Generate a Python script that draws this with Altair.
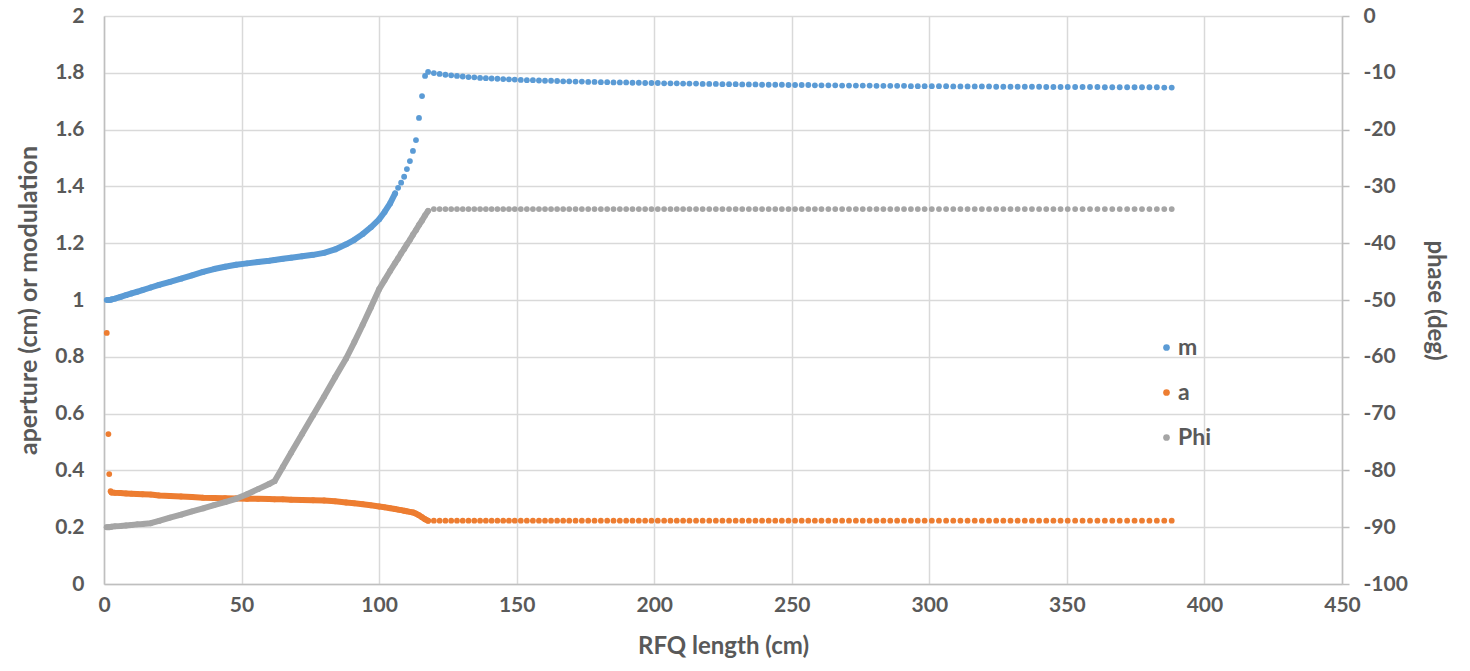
import altair as alt
import pandas as pd

# ---- cell positions (cm) and values ----
z_dense = [1.0, 1.6, 1.9, 2.4, 2.8,
           4, 6, 8, 10, 12, 14,
           17, 20, 24, 28, 32, 36, 40, 44, 48,
           52, 56, 60, 62, 65, 68, 72, 76, 80,
           84, 88, 91, 94, 97, 100, 102, 104,
           105.8, 106.9, 108.0, 109.1, 110.1, 111.2, 112.3, 113.4, 114.5, 115.6, 116.7, 117.8]

m_dense = [1.000, 1.000, 1.000, 1.001, 1.002,
           1.005, 1.011, 1.017, 1.023, 1.029, 1.035,
           1.044, 1.053, 1.064, 1.075, 1.087, 1.099, 1.109, 1.117, 1.124,
           1.129, 1.134, 1.138, 1.141, 1.145, 1.149, 1.154, 1.159, 1.166,
           1.178, 1.196, 1.212, 1.232, 1.256, 1.284, 1.310, 1.340,
           1.375, 1.395, 1.413, 1.434, 1.461, 1.489, 1.525, 1.563, 1.641, 1.718, 1.789, 1.803]

a_dense = [0.884, 0.528, 0.387, 0.327, 0.322,
           0.321, 0.320, 0.319, 0.318, 0.317, 0.316,
           0.315, 0.312, 0.310, 0.308, 0.306, 0.304, 0.303, 0.302, 0.301,
           0.300, 0.300, 0.299, 0.298, 0.298, 0.297, 0.296, 0.295, 0.294,
           0.291, 0.287, 0.284, 0.281, 0.277, 0.273, 0.270, 0.267,
           0.264, 0.262, 0.260, 0.258, 0.256, 0.254, 0.252, 0.248, 0.242, 0.235, 0.228, 0.223]

phi_dense = [-90.0, -90.0, -90.0, -89.95, -89.9,
             -89.85, -89.8, -89.7, -89.6, -89.5, -89.45,
             -89.3, -88.9, -88.3, -87.8, -87.2, -86.7, -86.1, -85.6, -85.0,
             -84.2, -83.3, -82.4, -81.9, -79.4, -76.9, -73.6, -70.3, -67.0,
             -63.6, -60.3, -57.4, -54.4, -51.3, -48.1, -46.5, -44.9,
             -43.5, -42.7, -41.8, -41.0, -40.2, -39.4, -38.5, -37.7, -36.8, -36.0, -35.1, -34.3]

z_plateau = [119.9, 122.0, 124.1, 126.2, 128.3, 130.4, 132.5, 134.6, 136.7, 138.8, 140.9, 143.0, 145.1, 147.2, 149.3,
             151.5, 153.7, 155.9, 158.1, 160.3, 162.5, 164.7, 166.9, 169.1,
             171.4, 173.7, 176.0, 178.3, 180.6, 182.9, 185.2, 187.5, 189.8, 192.1, 194.4, 196.7, 199.0, 201.3,
             203.6, 205.9, 208.2, 210.5, 212.8,
             215.2, 217.6, 220.0, 222.4, 224.8, 227.2, 229.6, 232.0, 234.4, 236.8, 239.2, 241.6, 244.0, 246.4,
             248.8, 251.2, 253.6, 256.0, 258.4, 260.8,
             263.3, 265.8, 268.3, 270.8, 273.3, 275.8, 278.3, 280.8, 283.3, 285.8, 288.3, 290.8, 293.3, 295.8, 298.3,
             300.9, 303.5, 306.1, 308.7, 311.3, 313.9, 316.5, 319.1, 321.7, 324.3, 326.9, 329.5, 332.1, 334.7,
             337.3, 339.9, 342.5, 345.1, 347.7, 350.3,
             353.0, 355.7, 358.4, 361.1, 363.8, 366.5, 369.2, 371.9, 374.6, 377.3, 380.0, 382.7, 385.4, 388.1]

m_plateau = [1.799, 1.796, 1.793, 1.791, 1.789, 1.787, 1.785, 1.784, 1.782, 1.781, 1.780, 1.779, 1.778, 1.777, 1.776,
             1.775, 1.774, 1.774, 1.773, 1.772, 1.772, 1.771, 1.770, 1.770,
             1.769, 1.769, 1.768, 1.768, 1.767, 1.767, 1.766, 1.766, 1.766, 1.765, 1.765, 1.764, 1.764, 1.764,
             1.763, 1.763, 1.763, 1.762, 1.762,
             1.762, 1.761, 1.761, 1.761, 1.760, 1.760, 1.760, 1.759, 1.759, 1.759, 1.758, 1.758, 1.758, 1.758,
             1.757, 1.757, 1.757, 1.757, 1.756, 1.756,
             1.756, 1.756, 1.755, 1.755, 1.755, 1.755, 1.755, 1.754, 1.754, 1.754, 1.754, 1.754, 1.753, 1.753, 1.753,
             1.753, 1.753, 1.753, 1.752, 1.752, 1.752, 1.752, 1.752, 1.752, 1.751, 1.751, 1.751, 1.751, 1.751,
             1.751, 1.751, 1.750, 1.750, 1.750, 1.750,
             1.750, 1.750, 1.750, 1.750, 1.749, 1.749, 1.749, 1.749, 1.749, 1.749, 1.749, 1.749, 1.748, 1.748]

A_PLATEAU = 0.223     # aperture after the shaper (flat)
PHI_PLATEAU = -34.0   # synchronous phase after the shaper (flat)

series_names = ["m", "a", "Phi"]
series_colors = ["#5B9BD5", "#ED7D31", "#A5A5A5"]

x_ticks = [0, 50, 100, 150, 200, 250, 300, 350, 400, 450]
y_left_ticks = [0, 0.2, 0.4, 0.6, 0.8, 1.0, 1.2, 1.4, 1.6, 1.8, 2.0]
y_right_ticks = [-100, -90, -80, -70, -60, -50, -40, -30, -20, -10, 0]

# ---- build tables ----
cells = pd.DataFrame({
    "z": z_dense + z_plateau,
    "m": m_dense + m_plateau,
    "a": a_dense + [A_PLATEAU] * len(z_plateau),
    "Phi": phi_dense + [PHI_PLATEAU] * len(z_plateau),
})
long = cells.melt(id_vars="z", value_vars=series_names, var_name="series", value_name="value")
left_df = long[long["series"].isin(["m", "a"])]
right_df = long[long["series"] == "Phi"]

FONT = "Lato"
TXT = "#595959"

color = alt.Color("series:N",
                  scale=alt.Scale(domain=series_names, range=series_colors),
                  legend=alt.Legend(title=None, orient="none", legendX=1051, legendY=320,
                                    symbolType="circle", symbolSize=45, symbolStrokeWidth=0,
                                    labelFont=FONT, labelFontWeight="bold", labelFontSize=23,
                                    labelColor=TXT, rowPadding=21, labelOffset=0, padding=0))

x_enc = alt.X("z:Q", scale=alt.Scale(domain=[0, 450], nice=False),
              axis=alt.Axis(values=x_ticks, title="RFQ length (cm)", grid=True, labelFlush=False,
                            tickSize=0, labelPadding=10, titlePadding=19, titleFontSize=24))

y_left = alt.Y("value:Q", scale=alt.Scale(domain=[0, 2], nice=False),
               axis=alt.Axis(values=y_left_ticks, format="~g", title="aperture (cm) or modulation",
                             orient="left", grid=True, tickSize=0, labelPadding=20, titlePadding=13,
                             labelFlush=False, titleFontSize=25))

y_right = alt.Y("value:Q", scale=alt.Scale(domain=[-100, 0], nice=False),
                axis=alt.Axis(values=y_right_ticks, labelExpr="'' + datum.value", title="phase (deg)",
                              orient="right", grid=False, tickSize=7, labelPadding=14, titlePadding=15,
                              labelFlush=False, titleFontSize=24))

m_filter = (alt.datum.z >= 2.8) & (alt.datum.z <= 106) & (alt.datum.series == "m")
a_filter = (alt.datum.z >= 2.8) & (alt.datum.z <= 118) & (alt.datum.series == "a")
phi_filter = (alt.datum.z >= 0) & (alt.datum.z <= 118)

line_style = dict(strokeWidth=6, strokeCap="round", strokeJoin="round")
PT = 34

line_m = alt.Chart(left_df).mark_line(**line_style).encode(
    x=x_enc, y=y_left, color=color).transform_filter(m_filter)
line_a = alt.Chart(left_df).mark_line(**line_style).encode(
    x=x_enc, y=y_left, color=color).transform_filter(a_filter)
pts_left = alt.Chart(left_df).mark_circle(size=PT, opacity=1).encode(x=x_enc, y=y_left, color=color)

line_phi = alt.Chart(right_df).mark_line(**line_style).encode(
    x=x_enc, y=y_right, color=color).transform_filter(phi_filter)
pts_right = alt.Chart(right_df).mark_circle(size=PT, opacity=1).encode(x=x_enc, y=y_right, color=color)

left_layer = alt.layer(line_m, line_a, pts_left)
right_layer = alt.layer(line_phi, pts_right)

chart = alt.layer(left_layer, right_layer).resolve_scale(y="independent").properties(
    width=1238, height=568,
    autosize=alt.AutoSizeParams(type="none"),
    padding={"left": 96, "top": 8, "right": 120, "bottom": 75},
).configure_view(stroke=None).configure_axis(
    labelFont=FONT, labelFontWeight="bold", labelFontSize=21, labelColor=TXT,
    titleFont=FONT, titleFontWeight="bold", titleColor=TXT,
    domainColor="#BFBFBF", domainWidth=1.5, tickColor="#BFBFBF", tickWidth=1.5,
    gridColor="#D9D9D9", gridWidth=1.5,
)

chart.save("out.html", embed_options={"renderer": "svg", "actions": False})
